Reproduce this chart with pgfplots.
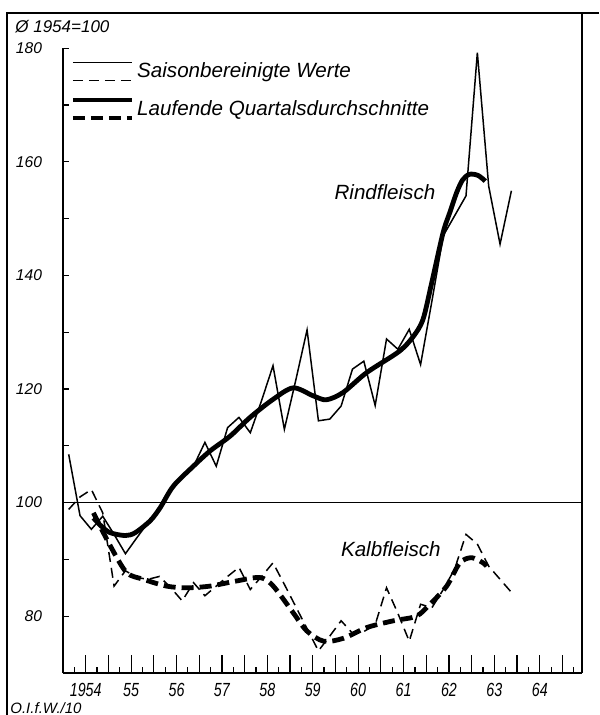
\documentclass[border=0pt]{standalone}
\usepackage{fontspec}
\setmainfont{Liberation Sans}
\usepackage{graphicx}
\usepackage{pgfplots}
\pgfplotsset{compat=1.18}
\newcommand\xl[1]{\scalebox{0.75}[1]{#1}}
\begin{document}
\begin{tikzpicture}
\useasboundingbox (0,0) rectangle (299.5pt,357.5pt);
\begin{axis}[
  at={(31.5pt,21pt)}, anchor=south west,
  scale only axis, width=259.5pt, height=312.4pt,
  xmin=1954, xmax=1965.43, ymin=70, ymax=180,
  axis x line=bottom, axis y line=left,
  axis line style={-, line width=0.7pt},
  tick align=inside,
  tick style={line width=0.6pt, black},
  xtick={1955,...,1965},
  xticklabels={,,,,,,,,,,,},
  xtick style={/pgfplots/major tick length=9pt},
  minor xtick={1954.25,1954.75,...,1965.25},
  minor tick length=3pt,
  extra x ticks={1954.5,1955.5,...,1964.5},
  extra x tick labels={\xl{1954},\xl{55},\xl{56},\xl{57},\xl{58},\xl{59},\xl{60},\xl{61},\xl{62},\xl{63},\xl{64}},
  extra x tick style={/pgfplots/major tick length=5.5pt},
  xticklabel style={font=\fontsize{9.5}{11}\selectfont\itshape, yshift=-1.5pt},
  ytick={70,80,...,180},
  yticklabels={,80,,100,,120,,140,,160,,180},
  ytick style={/pgfplots/major tick length=3pt},
  yticklabel style={font=\fontsize{7.8}{9}\selectfont\itshape, xshift=-7pt},
  legend style={at={(rel axis cs:0.0135,0.9827)}, anchor=north west, draw=none, fill=none,
    inner sep=0pt, row sep=6.9pt, nodes={inner sep=1.5pt},
    font=\fontsize{10.3}{12}\selectfont\itshape},
  legend cell align=left,
]
\addlegendimage{legend image code/.code={\draw[line width=0.7pt] (0pt,4.5pt)--(29.5pt,4.5pt); \draw[line width=0.7pt,dash pattern=on 5pt off 3pt] (0pt,-4.5pt)--(29.5pt,-4.5pt);}}
\addlegendentry{Saisonbereinigte Werte}
\addlegendimage{legend image code/.code={\draw[line width=2.4pt] (0pt,4.5pt)--(29.5pt,4.5pt); \draw[line width=2.4pt,dash pattern=on 6pt off 3pt] (0pt,-4.5pt)--(29.5pt,-4.5pt);}}
\addlegendentry{Laufende Quartalsdurchschnitte}

\addplot[line width=0.6pt, forget plot] coordinates {(1954,100) (1965.43,100)};

% Rindfleisch, saisonbereinigt
\addplot[line width=0.75pt, forget plot] coordinates {
(1954.125,108.5) (1954.375,97.7) (1954.625,95.3) (1954.875,97.6)
(1955.125,94.4) (1955.375,91.0) (1955.625,93.8) (1955.875,96.5)
(1956.125,99.1) (1956.375,102.6) (1956.625,104.7) (1956.875,106.4)
(1957.125,110.6) (1957.375,106.4) (1957.625,113.2) (1957.875,115.0)
(1958.125,112.3) (1958.375,118.0) (1958.625,124.1) (1958.875,112.9)
(1959.125,121.5) (1959.375,130.4) (1959.625,114.4) (1959.875,114.7)
(1960.125,117.0) (1960.375,123.5) (1960.625,124.9) (1960.875,117.1)
(1961.125,128.8) (1961.375,127.0) (1961.625,130.5) (1961.875,124.3)
(1962.125,135.5) (1962.375,147.0) (1962.625,150.5) (1962.875,154.0)
(1963.125,179.2) (1963.375,155.7) (1963.625,145.5) (1963.875,154.9)};

% Rindfleisch, laufender Durchschnitt
\addplot[line width=2.4pt, smooth, tension=0.5, forget plot] coordinates {
(1954.67,97.3) (1954.85,95.8) (1955.04,94.7) (1955.37,94.2) (1955.59,94.7)
(1955.92,96.8) (1956.14,99.1) (1956.43,102.9) (1956.87,106.4) (1957.24,109.1)
(1957.68,111.7) (1958.12,115.0) (1958.63,118.2) (1959.07,120.2) (1959.51,118.8)
(1959.80,118.1) (1960.17,119.4) (1960.69,122.9) (1961.40,126.6) (1961.72,129.3)
(1961.93,132.3) (1962.12,138.7) (1962.37,147.5) (1962.52,151.1) (1962.67,154.6)
(1962.80,156.8) (1962.95,157.8) (1963.14,157.6) (1963.30,156.6)};

% Kalbfleisch, saisonbereinigt
\addplot[line width=0.75pt, dash pattern=on 5pt off 3pt, forget plot] coordinates {
(1954.125,98.8) (1954.375,101.0) (1954.625,102.3) (1954.875,98.2)
(1955.125,85.3) (1955.375,88.0) (1955.625,86.8) (1955.875,86.5)
(1956.125,87.0) (1956.375,85.0) (1956.625,82.7) (1956.875,85.9)
(1957.125,83.6) (1957.375,85.3) (1957.625,87.0) (1957.875,88.6)
(1958.125,84.7) (1958.375,87.0) (1958.625,89.4) (1958.875,85.6)
(1959.125,81.7) (1959.375,77.8) (1959.625,73.9) (1959.875,76.5)
(1960.125,79.2) (1960.375,77.0) (1960.625,77.3) (1960.875,78.5)
(1961.125,85.0) (1961.375,80.5) (1961.625,75.6) (1961.875,82.1)
(1962.125,81.5) (1962.375,84.7) (1962.625,88.3) (1962.875,94.4)
(1963.125,92.7) (1963.375,88.8) (1963.625,86.5) (1963.875,84.2)};

% Kalbfleisch, laufender Durchschnitt
\addplot[line width=2.4pt, dash pattern=on 6pt off 3pt, smooth, tension=0.5, forget plot] coordinates {
(1954.67,98.2) (1955.04,92.4) (1955.40,87.7) (1955.77,86.5) (1956.28,85.3)
(1956.72,85.0) (1957.24,85.3) (1957.82,86.2) (1958.34,86.8) (1958.63,85.3)
(1959.07,80.6) (1959.37,77.4) (1959.74,75.6) (1960.17,76.1) (1960.69,78.0)
(1961.28,79.2) (1961.78,80.0) (1962.08,82.1) (1962.45,85.3) (1962.74,89.4)
(1963.00,90.3) (1963.25,89.4) (1963.33,88.8)};

\node[font=\fontsize{10.3}{12}\selectfont\itshape] at (axis cs:1961.09,154.6) {Rindfleisch};
\node[font=\fontsize{10.3}{12}\selectfont\itshape] at (axis cs:1961.22,91.8) {Kalbfleisch};
\end{axis}
\draw[line width=1pt] (3.5pt,0pt) -- (3.5pt,351pt) -- (299.5pt,351pt);
\draw[line width=0.8pt] (291pt,351pt) -- (291pt,21pt);
\node[anchor=west, font=\fontsize{8.5}{10}\selectfont\itshape, inner sep=0pt] at (7.5pt,344pt) {Ø 1954=100};
\node[anchor=west, font=\fontsize{7.5}{9}\selectfont\itshape, inner sep=0pt] at (5pt,3.5pt) {O.I.f.W./10};
\end{tikzpicture}
\end{document}
